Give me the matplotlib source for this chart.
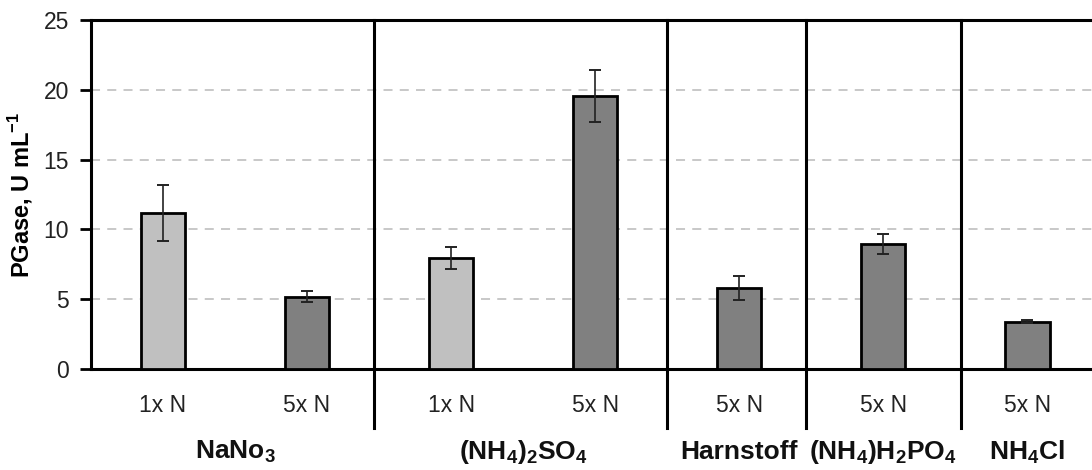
import numpy as np
from matplotlib import pyplot as plt
from matplotlib.lines import Line2D

# bar values (PGase, U/mL) and error bars
treatments = ["1x N", "5x N", "1x N", "5x N", "5x N", "5x N", "5x N"]
values = [11.15, 5.18, 7.95, 19.57, 5.83, 8.93, 3.40]
errors = [2.0, 0.40, 0.80, 1.87, 0.86, 0.71, 0.10]
bar_colors = ["#c0c0c0", "#808080", "#c0c0c0", "#808080", "#808080", "#808080", "#808080"]

groups = [r"NaNo$_\mathbf{3}$", r"(NH$_\mathbf{4}$)$_\mathbf{2}$SO$_\mathbf{4}$", "Harnstoff",
          r"(NH$_\mathbf{4}$)H$_\mathbf{2}$PO$_\mathbf{4}$", r"NH$_\mathbf{4}$Cl"]
group_sizes = [2, 2, 1, 1, 1]
separators = [1.462, 3.496, 4.465, 5.54]

plt.rcParams["font.family"] = ["Liberation Sans", "DejaVu Sans"]
plt.rcParams["mathtext.fontset"] = "custom"
plt.rcParams["mathtext.rm"] = "Liberation Sans"
plt.rcParams["mathtext.bf"] = "Liberation Sans:bold"
plt.rcParams["font.size"] = 16.5

fig = plt.figure(figsize=(10.92, 4.70), dpi=100)
ax = fig.add_axes([91 / 1092, 1 - 369 / 470, 1 - 91 / 1092, 349 / 470])

x = np.arange(len(values))
ax.bar(x, values, width=0.31, color=bar_colors, edgecolor="black", linewidth=2.0, zorder=3)
ax.errorbar(x, values, yerr=errors, fmt="none", ecolor="#222222", elinewidth=1.2,
            capsize=4, capthick=1.4, zorder=4)

ax.set_xlim(-0.5, 6.45)
ax.set_ylim(0, 25)
ax.set_yticks([0, 5, 10, 15, 20, 25])
ax.set_xticks(x)
ax.set_xticklabels(treatments)
ax.tick_params(axis="x", length=0, pad=18, labelsize=16.5)
ax.tick_params(axis="y", length=8, width=2, pad=8, labelsize=16.5)
for lbl in ax.get_yticklabels() + ax.get_xticklabels():
    lbl.set_color("#222222")

ax.yaxis.grid(True, linestyle=(0, (5, 4)), color="#c4c4c4", linewidth=1.3, zorder=0)
ax.set_axisbelow(True)

for side in ["left", "bottom", "top"]:
    ax.spines[side].set_linewidth(2.2)
    ax.spines[side].set_color("black")
ax.spines["right"].set_visible(False)

ax.set_ylabel(r"PGase, U mL$^\mathbf{-1}$", fontweight="bold", fontsize=17, labelpad=6)

# vertical group separators running down into the label area
for s in separators:
    ax.add_line(Line2D([s, s], [1.0, -0.169], transform=ax.get_xaxis_transform(),
                       color="black", linewidth=2.2, clip_on=False, zorder=5))

# group labels
start = 0
for name, n in zip(groups, group_sizes):
    center = start + (n - 1) / 2
    ax.text(center, -0.238, name, transform=ax.get_xaxis_transform(), ha="center", va="center",
            fontsize=19, fontweight="bold", color="#111111")
    start += n

plt.savefig("out.png", dpi=100)
plt.close()
